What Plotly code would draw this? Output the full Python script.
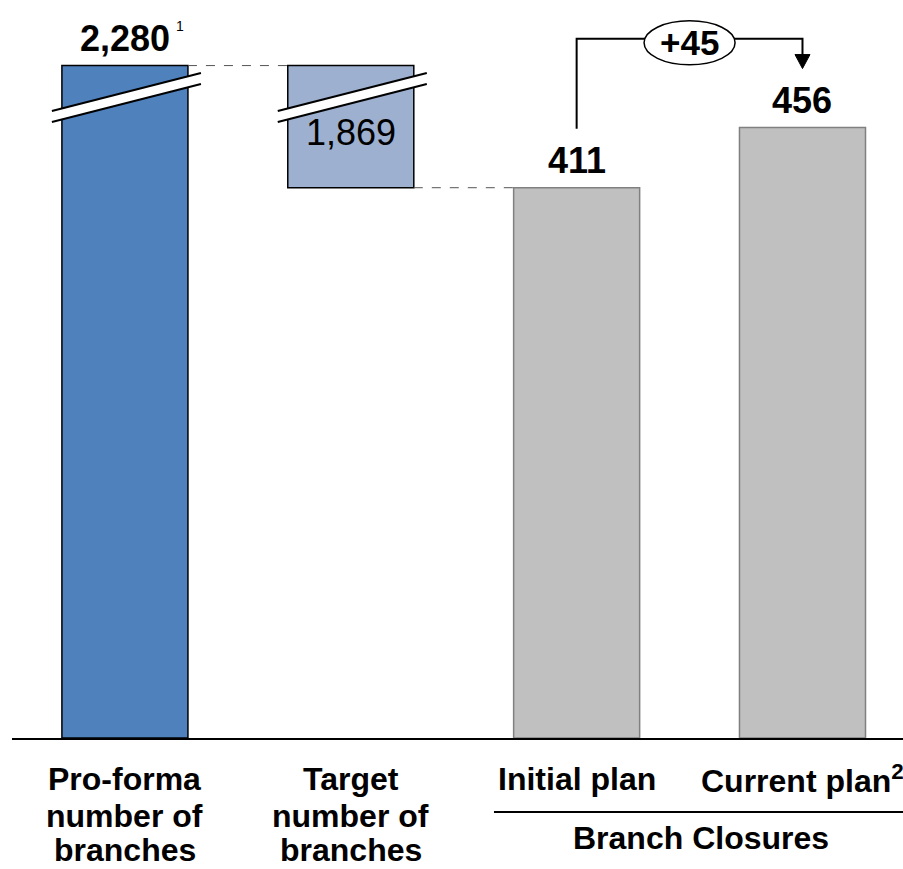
import plotly.graph_objects as go

# ---- data ------------------------------------------------------------
categories = ["Pro-forma\nnumber of\nbranches", "Target\nnumber of\nbranches",
              "Initial plan", "Current plan"]
footnote_marks = ["1", None, None, "2"]
proforma_branches = 2280
target_branches = 1869
initial_closures = 411
current_closures = 456
group_label = "Branch Closures"

# ---- broken value axis: values above BREAK_AT are squeezed ----------
BREAK_AT = 460
SQUEEZE = 0.0232


def disp(v):
    return v if v <= BREAK_AT else BREAK_AT + (v - BREAK_AT) * SQUEEZE


# ---- geometry --------------------------------------------------------
W, H = 903, 869
M_L, M_R, M_T, M_B = 12, 0, 0, 131
PLOT_W, PLOT_H = W - M_L - M_R, H - M_T - M_B
X_MIN, X_MAX = -0.5, 3.445
Y_MAX = 551.2
BAR_W = 0.558


def px_y(n):
    """pixels -> value-axis units"""
    return n * Y_MAX / PLOT_H


def px_x(n):
    """pixels -> category-axis units"""
    return n * (X_MAX - X_MIN) / PLOT_W


def paper_y(pix):
    """pixel row (from top of figure) -> paper coordinate"""
    return (PLOT_H + M_T - pix) / PLOT_H


FONT = "Arial, Liberation Sans, sans-serif"
BLUE = "#4F81BD"
LIGHT_BLUE = "#9DB0CF"
GREY = "#C0C0C0"
GREY_EDGE = "#808080"

x_pos = [0, 1, 2, 3]
top_display = disp(proforma_branches)
target_base = proforma_branches - target_branches

fig = go.Figure()

# pro-forma total
fig.add_bar(x=[x_pos[0]], y=[top_display], width=BAR_W,
            marker=dict(color=BLUE, line=dict(color="#000000", width=1.5)))
# target, floating between the closures level and the pro-forma total
fig.add_bar(x=[x_pos[1]], y=[top_display - disp(target_base)], base=[disp(target_base)],
            width=BAR_W,
            marker=dict(color=LIGHT_BLUE, line=dict(color="#000000", width=1.5)))
# closures
fig.add_bar(x=x_pos[2:], y=[initial_closures, current_closures], width=BAR_W,
            marker=dict(color=GREY, line=dict(color=GREY_EDGE, width=1.5)))

shapes = []
annotations = []

# axis-break marks across the first two bars
for xi in x_pos[:2]:
    xl = xi - BAR_W / 2 - px_x(10)
    xr = xi + BAR_W / 2 + px_x(13)
    yl = top_display - px_y(51)
    yr = top_display - px_y(13)
    half = px_y(5.5)
    shapes.append(dict(type="path", xref="x", yref="y",
                       path=f"M {xl},{yl + half} L {xr},{yr + half} L {xr},{yr - half} L {xl},{yl - half} Z",
                       fillcolor="white", line=dict(width=0)))
    for s in (1, -1):
        shapes.append(dict(type="line", xref="x", yref="y",
                           x0=xl, y0=yl + s * half, x1=xr, y1=yr + s * half,
                           line=dict(color="#000000", width=2)))

# dashed connectors
shapes.append(dict(type="line", xref="x", yref="y",
                   x0=x_pos[0] + BAR_W / 2, x1=x_pos[1] - BAR_W / 2,
                   y0=top_display, y1=top_display,
                   line=dict(color="#555555", width=1, dash="dash")))
shapes.append(dict(type="line", xref="x", yref="y",
                   x0=x_pos[1] + BAR_W / 2, x1=x_pos[2] - BAR_W / 2,
                   y0=disp(target_base), y1=disp(target_base),
                   line=dict(color="#555555", width=1, dash="dash")))

# change bracket between the two plans
bracket_y = top_display + 20
start_y = initial_closures + 44
end_y = current_closures + 44
mid_x = (x_pos[2] + x_pos[3]) / 2
ell_rx = px_x(45.5)
ell_ry = px_y(22)
ell_cy = bracket_y - px_y(4)
shapes.append(dict(type="path", xref="x", yref="y",
                   path=f"M {x_pos[2]},{start_y} L {x_pos[2]},{bracket_y} L {x_pos[3]},{bracket_y} "
                        f"L {x_pos[3]},{end_y + px_y(13)}",
                   line=dict(color="#000000", width=2)))
shapes.append(dict(type="path", xref="x", yref="y",
                   path=f"M {x_pos[3] - px_x(7.5)},{end_y + px_y(14)} L {x_pos[3] + px_x(7.5)},{end_y + px_y(14)} "
                        f"L {x_pos[3]},{end_y} Z",
                   fillcolor="#000000", line=dict(color="#000000", width=1)))
shapes.append(dict(type="circle", xref="x", yref="y",
                   x0=mid_x - ell_rx, x1=mid_x + ell_rx,
                   y0=ell_cy - ell_ry, y1=ell_cy + ell_ry,
                   fillcolor="white", line=dict(color="#000000", width=1.5)))
annotations.append(dict(x=mid_x, y=ell_cy, xref="x", yref="y", showarrow=False,
                        text=f"<b>+{current_closures - initial_closures}</b>",
                        font=dict(family=FONT, size=35, color="#000000"),
                        yanchor="middle", xanchor="center"))

# value labels
value_labels = [(x_pos[0], proforma_branches, top_display),
                (x_pos[2], initial_closures, initial_closures),
                (x_pos[3], current_closures, current_closures)]
for xi, val, ytop in value_labels:
    annotations.append(dict(x=xi, y=ytop, xref="x", yref="y", showarrow=False,
                            text=f"<b>{val:,}</b>", yshift=27,
                            font=dict(family=FONT, size=36, color="#000000"),
                            xanchor="center", yanchor="middle"))
annotations.append(dict(x=x_pos[0], y=top_display, xref="x", yref="y", showarrow=False,
                        text=footnote_marks[0], xshift=55, yshift=40,
                        font=dict(family=FONT, size=14, color="#000000"),
                        xanchor="center", yanchor="middle"))
annotations.append(dict(x=x_pos[1], y=top_display, xref="x", yref="y", showarrow=False,
                        text=f"{target_branches:,}", yshift=-67,
                        font=dict(family=FONT, size=36, color="#000000"),
                        xanchor="center", yanchor="middle"))

# category labels
LINE_ROWS = [779, 816, 850]
for xi, label, mark in zip(x_pos, categories, footnote_marks):
    lines = label.split("\n")
    if mark and xi != x_pos[0]:
        lines[-1] += f"<sup>{mark}</sup>"
    for row, line in zip(LINE_ROWS, lines):
        annotations.append(dict(x=xi, y=paper_y(row), xref="x", yref="paper",
                                showarrow=False, text=f"<b>{line}</b>",
                                font=dict(family=FONT, size=32, color="#000000"),
                                xanchor="center", yanchor="middle"))

# group bracket under the closures
shapes.append(dict(type="line", xref="x", yref="paper",
                   x0=x_pos[2] - 0.366, x1=X_MAX, y0=paper_y(812), y1=paper_y(812),
                   line=dict(color="#000000", width=2)))
annotations.append(dict(x=2.55, y=paper_y(838), xref="x", yref="paper",
                        showarrow=False, text=f"<b>{group_label}</b>",
                        font=dict(family=FONT, size=32, color="#000000"),
                        xanchor="center", yanchor="middle"))

fig.update_layout(
    width=W, height=H,
    margin=dict(l=M_L, r=M_R, t=M_T, b=M_B, pad=0),
    paper_bgcolor="white", plot_bgcolor="white",
    showlegend=False, barmode="overlay",
    shapes=shapes, annotations=annotations,
    xaxis=dict(range=[X_MIN, X_MAX], showticklabels=False, showgrid=False,
               zeroline=False, ticks="", showline=True, linecolor="#000000",
               linewidth=2),
    yaxis=dict(range=[0, Y_MAX], visible=False, showgrid=False, zeroline=False),
)

fig.write_html("out.html", config={"displayModeBar": False})
